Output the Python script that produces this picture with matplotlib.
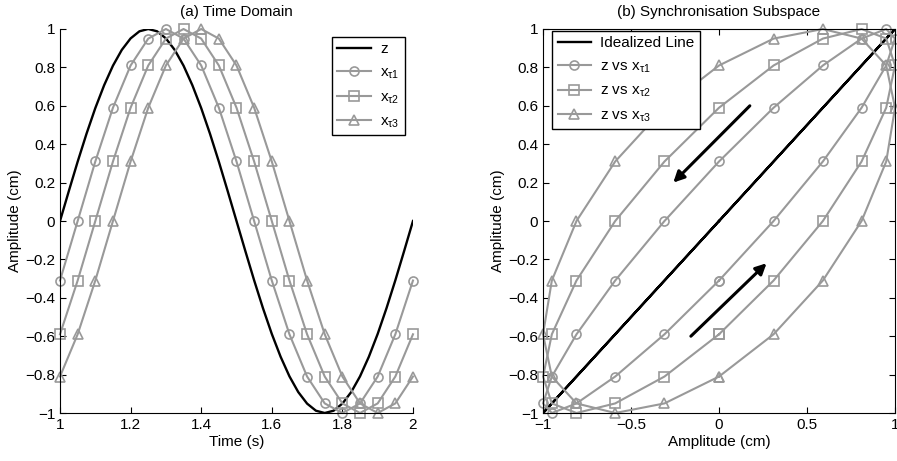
import numpy as np
import matplotlib
matplotlib.use('Agg')
import matplotlib.pyplot as plt

plt.rcParams['font.family'] = ['Liberation Sans', 'DejaVu Sans']
plt.rcParams['mathtext.fontset'] = 'custom'
plt.rcParams['mathtext.rm'] = 'Liberation Sans'
plt.rcParams['mathtext.it'] = 'Liberation Sans'
plt.rcParams['font.size'] = 11

# sample times (markers) and dense time for z
t_s = np.linspace(1, 2, 21)
t_d = np.linspace(1, 2, 41)

# z, every 0.025 s
z_half = [0, 0.156, 0.309, 0.454, 0.588, 0.707, 0.809, 0.891, 0.951, 0.988,
          1.0, 0.988, 0.951, 0.891, 0.809, 0.707, 0.588, 0.454, 0.309, 0.156]
z_d = z_half + [-v for v in z_half] + [0]

# z at marker times and the three delayed copies
z_s = [0, 0.31, 0.59, 0.81, 0.95, 1, 0.95, 0.81, 0.59, 0.31, 0,
       -0.31, -0.59, -0.81, -0.95, -1, -0.95, -0.81, -0.59, -0.31, 0]
x1 = [-0.31, 0, 0.31, 0.59, 0.81, 0.95, 1, 0.95, 0.81, 0.59, 0.31,
      0, -0.31, -0.59, -0.81, -0.95, -1, -0.95, -0.81, -0.59, -0.31]
x2 = [-0.59, -0.31, 0, 0.31, 0.59, 0.81, 0.95, 1, 0.95, 0.81, 0.59,
      0.31, 0, -0.31, -0.59, -0.81, -0.95, -1, -0.95, -0.81, -0.59]
x3 = [-0.81, -0.59, -0.31, 0, 0.31, 0.59, 0.81, 0.95, 1, 0.95, 0.81,
      0.59, 0.31, 0, -0.31, -0.59, -0.81, -0.95, -1, -0.95, -0.81]

series = [x1, x2, x3]
markers = ['o', 's', '^']
names = ['1', '2', '3']

arrow_down = ((0.175, 0.6), (-0.26, 0.2))
arrow_up = ((-0.16, -0.6), (0.27, -0.22))

yticks = [-1, -0.8, -0.6, -0.4, -0.2, 0, 0.2, 0.4, 0.6, 0.8, 1]
ylabels = ['\u22121', '\u22120.8', '\u22120.6', '\u22120.4', '\u22120.2',
           '0', '0.2', '0.4', '0.6', '0.8', '1']

gray = '#999999'

fig = plt.figure(figsize=(8.97, 4.61), dpi=100)
ax1 = fig.add_axes([0.0669, 0.1041, 0.3935, 0.833])
ax2 = fig.add_axes([0.6054, 0.1041, 0.3924, 0.833])

# (a) time domain
ax1.plot(t_d, z_d, color='k', lw=1.7, label='z')
for s, m, n in zip(series, markers, names):
    ax1.plot(t_s, s, color=gray, lw=1.5, marker=m, ms=6.5, mfc='none',
             mec=gray, mew=1.2, clip_on=False,
             label=r'x$_{\mathregular{\tau%s}}$' % n)
ax1.set_xlim(1, 2)
ax1.set_ylim(-1, 1)
ax1.set_xticks([1, 1.2, 1.4, 1.6, 1.8, 2])
ax1.set_xticklabels(['1', '1.2', '1.4', '1.6', '1.8', '2'])
ax1.set_yticks(yticks)
ax1.set_yticklabels(ylabels)
ax1.spines['top'].set_visible(False)
ax1.spines['right'].set_visible(False)
ax1.tick_params(direction='in', length=4)
ax1.set_xlabel('Time (s)', labelpad=2)
ax1.set_ylabel('Amplitude (cm)', labelpad=2)
ax1.set_title('(a) Time Domain', fontsize=11, pad=9)
leg1 = ax1.legend(loc='upper right', bbox_to_anchor=(0.977, 0.979), fancybox=False,
                  edgecolor='k', framealpha=1, handlelength=2.2, borderpad=0.35,
                  labelspacing=0.6, handletextpad=0.6, borderaxespad=0)
leg1.get_frame().set_linewidth(1.0)

# (b) synchronisation subspace
ax2.plot(z_d, z_d, color='k', lw=1.7, label='Idealized Line')
for s, m, n in zip(series, markers, names):
    ax2.plot(z_s, s, color=gray, lw=1.5, marker=m, ms=6.5, mfc='none',
             mec=gray, mew=1.2, clip_on=False,
             label=r'z vs x$_{\mathregular{\tau%s}}$' % n)
for tail, tip in [arrow_down, arrow_up]:
    ax2.annotate('', xy=tip, xytext=tail,
                 arrowprops=dict(arrowstyle='-|>', color='k', lw=2.2,
                                 mutation_scale=16, shrinkA=0, shrinkB=0))
ax2.set_xlim(-1, 1)
ax2.set_ylim(-1, 1)
ax2.set_xticks([-1, -0.5, 0, 0.5, 1])
ax2.set_xticklabels(['\u22121', '\u22120.5', '0', '0.5', '1'])
ax2.set_yticks(yticks)
ax2.set_yticklabels(ylabels)
ax2.tick_params(direction='in', length=4, top=True, right=True)
ax2.set_xlabel('Amplitude (cm)', labelpad=2)
ax2.set_ylabel('Amplitude (cm)', labelpad=2)
ax2.set_title('(b) Synchronisation Subspace', fontsize=11, pad=9)
leg2 = ax2.legend(loc='upper left', bbox_to_anchor=(0.026, 0.995), fancybox=False,
                  edgecolor='k', framealpha=1, handlelength=2.2, borderpad=0.35,
                  labelspacing=0.6, handletextpad=0.6, borderaxespad=0)
leg2.get_frame().set_linewidth(1.0)

fig.savefig('out.png', dpi=100)
